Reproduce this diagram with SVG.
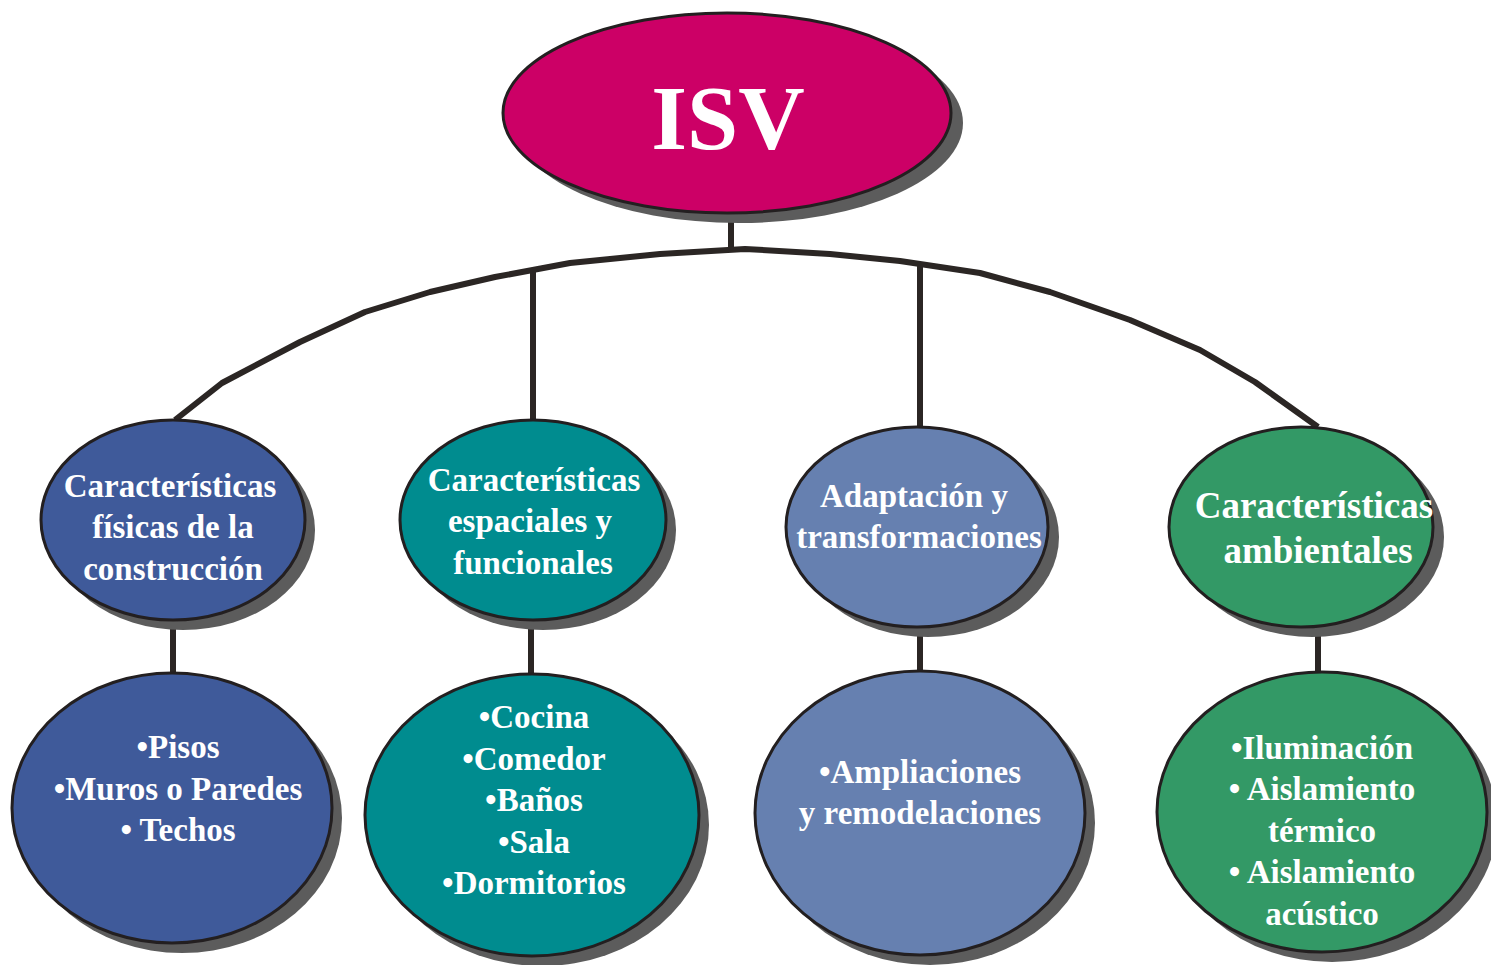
<svg xmlns="http://www.w3.org/2000/svg" width="1491" height="965" viewBox="0 0 1491 965">
<style>
.sh{fill:#5c5c5c}
.nd{stroke:#231f20;stroke-width:3}
.t{font-family:"Liberation Serif",serif;font-weight:bold;fill:#fff;text-anchor:middle;font-size:33px}
.big{font-size:37px}
.title{font-size:92px}
.c{fill:none;stroke:#2b2624;stroke-width:6;stroke-linejoin:round}
</style>
<rect width="1491" height="965" fill="#fff"/>
<g id="connectors">
<path class="c" d="M731,213 V250"/>
<path class="c" d="M175,420 L222,383 L300,342 L365,312 L430,292 L495,277 L570,263 L660,254 L745,249 L830,254 L900,261 L980,273 L1050,292 L1130,320 L1200,350 L1255,382 L1318,427"/>
<path class="c" d="M533,270 V420"/>
<path class="c" d="M920,262 V427"/>
<path class="c" d="M173,620 V674"/>
<path class="c" d="M531,620 V674"/>
<path class="c" d="M920,628 V673"/>
<path class="c" d="M1318,630 V673"/>
</g>
<g id="isv">
<ellipse class="sh" cx="739" cy="123" rx="224" ry="100"/>
<ellipse class="nd" cx="727" cy="113" rx="224" ry="100" fill="#cc0066"/>
<text class="t title" x="728" y="149">ISV</text>
</g>
<g id="n1">
<ellipse class="sh" cx="183" cy="530" rx="132" ry="100"/>
<ellipse class="nd" cx="173" cy="520" rx="132" ry="100" fill="#3f5a9a"/>
<text class="t" x="170" y="497">Características</text>
<text class="t" x="173" y="538">físicas de la</text>
<text class="t" x="173" y="580">construcción</text>
</g>
<g id="n2">
<ellipse class="sh" cx="543" cy="530" rx="133" ry="100"/>
<ellipse class="nd" cx="533" cy="520" rx="133" ry="100" fill="#008c8f"/>
<text class="t" x="534" y="491">Características</text>
<text class="t" x="530" y="532">espaciales y</text>
<text class="t" x="533" y="574">funcionales</text>
</g>
<g id="n3">
<ellipse class="sh" cx="928" cy="537" rx="131" ry="100"/>
<ellipse class="nd" cx="917" cy="527" rx="131" ry="100" fill="#6680b0"/>
<text class="t" x="914" y="507">Adaptación y</text>
<text class="t" x="919" y="548">transformaciones</text>
</g>
<g id="n4">
<ellipse class="sh" cx="1312" cy="537" rx="132" ry="100"/>
<ellipse class="nd" cx="1301" cy="527" rx="132" ry="100" fill="#339966"/>
<text class="t big" x="1314" y="518">Características</text>
<text class="t big" x="1318" y="563">ambientales</text>
</g>
<g id="m1">
<ellipse class="sh" cx="182" cy="818" rx="160" ry="135"/>
<ellipse class="nd" cx="172" cy="808" rx="160" ry="135" fill="#3f5a9a"/>
<text class="t" x="178" y="758">•Pisos</text>
<text class="t" x="178" y="800">•Muros o Paredes</text>
<text class="t" x="178" y="841">• Techos</text>
</g>
<g id="m2">
<ellipse class="sh" cx="542" cy="825" rx="167" ry="141"/>
<ellipse class="nd" cx="532" cy="815" rx="167" ry="141" fill="#008c8f"/>
<text class="t" x="534" y="728">•Cocina</text>
<text class="t" x="534" y="770">•Comedor</text>
<text class="t" x="534" y="811">•Baños</text>
<text class="t" x="534" y="853">•Sala</text>
<text class="t" x="534" y="894">•Dormitorios</text>
</g>
<g id="m3">
<ellipse class="sh" cx="930" cy="823" rx="165" ry="142"/>
<ellipse class="nd" cx="920" cy="813" rx="165" ry="142" fill="#6680b0"/>
<text class="t" x="920" y="783">•Ampliaciones</text>
<text class="t" x="920" y="824">y remodelaciones</text>
</g>
<g id="m4">
<ellipse class="sh" cx="1332" cy="822" rx="165" ry="140"/>
<ellipse class="nd" cx="1322" cy="812" rx="165" ry="140" fill="#339966"/>
<text class="t" x="1322" y="759">•Iluminación</text>
<text class="t" x="1322" y="800">• Aislamiento</text>
<text class="t" x="1322" y="842">térmico</text>
<text class="t" x="1322" y="883">• Aislamiento</text>
<text class="t" x="1322" y="925">acústico</text>
</g>
</svg>
